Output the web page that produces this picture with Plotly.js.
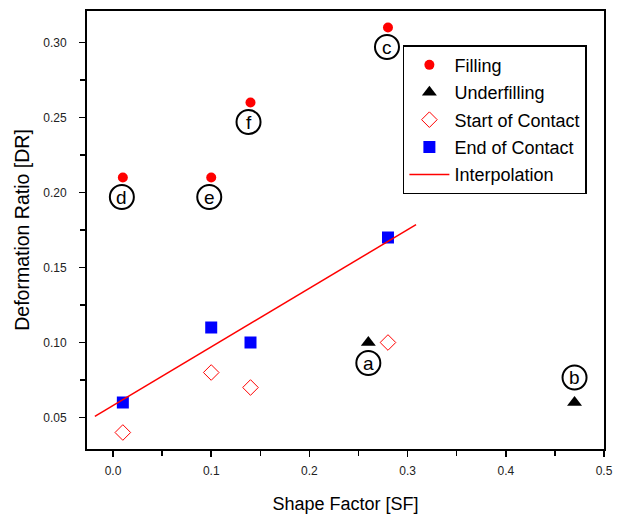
<!DOCTYPE html>
<html><head><meta charset="utf-8">
<script src="https://cdn.plot.ly/plotly-3.0.1.min.js"></script>
<style>html,body{margin:0;padding:0;background:#fff}#chart{width:624px;height:515px}</style>
</head><body><div id="chart"></div>
<script>
// Data
const fillingX = [0.01, 0.10, 0.14, 0.28];
const fillingY = [0.21, 0.21, 0.26, 0.31];
const underX = [0.26, 0.47];
const underY = [0.10, 0.06];
const startX = [0.01, 0.10, 0.14, 0.28];
const startY = [0.04, 0.08, 0.07, 0.10];
const endX = [0.01, 0.10, 0.14, 0.28];
const endY = [0.06, 0.11, 0.10, 0.17];
const interpX = [-0.0185, 0.3086];
const interpY = [0.0507, 0.1786];
const labelText = ['a', 'b', 'c', 'd', 'e', 'f'];
const labelX = [0.260, 0.470, 0.279, 0.009, 0.098, 0.138];
const labelY = [0.0863, 0.0767, 0.297, 0.197, 0.197, 0.247];

const FONT = 'Liberation Sans, Arial, sans-serif';

const traces = [
  {x: fillingX, y: fillingY, name: 'Filling', mode: 'markers', type: 'scatter', legendgroup: 'g1',
   marker: {symbol: 'circle', size: 10, color: '#ff0000'}},
  {x: underX, y: underY, name: 'Underfilling', mode: 'markers', type: 'scatter', legendgroup: 'g2',
   marker: {symbol: 'triangle-up', size: 13, color: '#000000'}},
  {x: startX, y: startY, name: 'Start of Contact', mode: 'markers', type: 'scatter', legendgroup: 'g3',
   marker: {symbol: 'diamond-open', size: 12, color: '#ff0000', line: {width: 1}}},
  {x: endX, y: endY, name: 'End of Contact', mode: 'markers', type: 'scatter', legendgroup: 'g4',
   marker: {symbol: 'square', size: 12, color: '#0000ff'}},
  {x: interpX, y: interpY, name: 'Interpolation', mode: 'lines', type: 'scatter', legendgroup: 'g5',
   line: {color: '#ff0000', width: 1.5}}
];

const shapes = labelX.map((x, i) => ({
  type: 'circle', xref: 'x', yref: 'y', xsizemode: 'pixel', ysizemode: 'pixel',
  xanchor: x, yanchor: labelY[i], x0: -12, x1: 12, y0: -12, y1: 12,
  line: {color: '#000000', width: 2}
}));
const annotations = labelText.map((t, i) => ({
  x: labelX[i], y: labelY[i], xref: 'x', yref: 'y', text: t, showarrow: false,
  font: {family: FONT, size: 19, color: '#000'}, xanchor: 'center', yanchor: 'middle'
}));

const axisCommon = {
  showline: true, linecolor: '#000', linewidth: 2, mirror: true,
  ticks: 'outside', ticklen: 6, tickwidth: 1.5, tickcolor: '#000',
  showgrid: false, zeroline: false,
  tickfont: {family: FONT, size: 12, color: '#222'}
};

const layout = {
  width: 624, height: 515,
  margin: {l: 87, r: 20, t: 11, b: 66},
  paper_bgcolor: '#fff', plot_bgcolor: '#fff',
  showlegend: true,
  legend: {x: 0.611, y: 0.922, xanchor: 'left', yanchor: 'top',
    bordercolor: '#000', borderwidth: 1.5, bgcolor: '#fff', itemwidth: 40,
    font: {family: FONT, size: 18, color: '#000'}, tracegroupgap: 1},
  xaxis: Object.assign({}, axisCommon, {
    range: [-0.0265, 0.5], tickmode: 'array', tickvals: [0, 0.1, 0.2, 0.3, 0.4, 0.5],
    ticktext: ['0.0', '0.1', '0.2', '0.3', '0.4', '0.5'], ticklabelstandoff: 4,
    minor: {tickvals: [0.05, 0.15, 0.25, 0.35, 0.45], ticks: 'outside', ticklen: 5, tickwidth: 1.5, tickcolor: '#000'},
    title: {text: 'Shape Factor [SF]', standoff: 20, font: {family: FONT, size: 18, color: '#000'}}
  }),
  yaxis: Object.assign({}, axisCommon, {
    range: [0.029, 0.321], tickmode: 'array', tickvals: [0.05, 0.10, 0.15, 0.20, 0.25, 0.30],
    ticktext: ['0.05', '0.10', '0.15', '0.20', '0.25', '0.30'], ticklabelstandoff: 10,
    minor: {tickvals: [0.075, 0.125, 0.175, 0.225, 0.275], ticks: 'outside', ticklen: 5, tickwidth: 1.5, tickcolor: '#000'},
    title: {text: 'Deformation Ratio [DR]', standoff: 8, font: {family: FONT, size: 19.5, color: '#000'}}
  }),
  shapes: shapes,
  annotations: annotations
};

Plotly.newPlot('chart', traces, layout, {displayModeBar: false, staticPlot: true});
</script>
</body></html>
